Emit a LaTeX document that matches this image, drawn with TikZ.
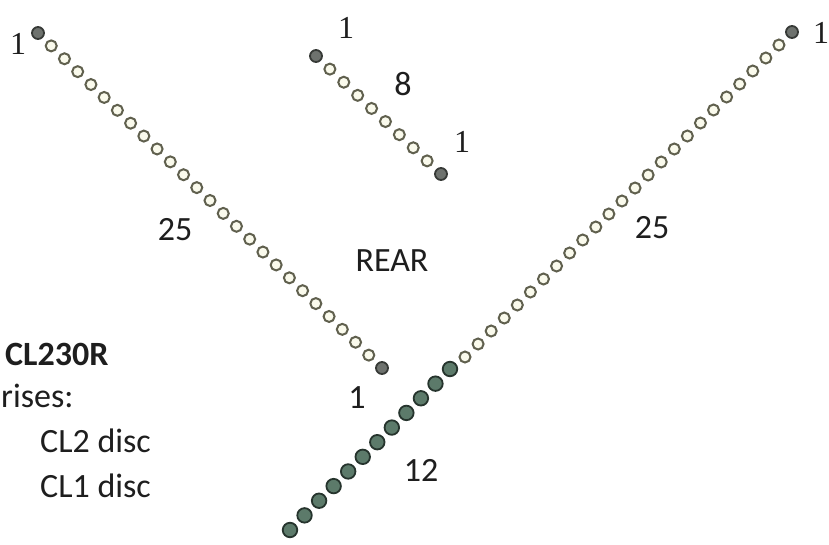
\documentclass[tikz,border=0pt]{standalone}
\usepackage{fontspec}
\setmainfont{Carlito}
\newfontfamily\serifone{Liberation Serif}
\definecolor{ringc}{RGB}{96,96,78}
\definecolor{ringfill}{RGB}{250,250,236}
\definecolor{greyc}{RGB}{110,114,110}
\definecolor{darkc}{RGB}{55,58,55}
\definecolor{greenc}{RGB}{92,122,106}
\definecolor{greendk}{RGB}{38,52,45}
\definecolor{textc}{RGB}{30,30,30}
\begin{document}
\begin{tikzpicture}[x=1pt,y=-1pt,
  opendot/.style={circle,draw=ringc,fill=ringfill,line width=2pt,minimum size=11pt,inner sep=0pt},
  greydot/.style={circle,draw=darkc,fill=greyc,line width=1.8pt,minimum size=12pt,inner sep=0pt},
  greendot/.style={circle,draw=greendk,fill=greenc,line width=1.8pt,minimum size=14.5pt,inner sep=0pt},
  lbl/.style={font=\fontsize{34}{40}\selectfont,text=textc,inner sep=0pt},
  slbl/.style={font=\fontsize{32}{38}\serifone,text=textc,inner sep=0pt},
]
\useasboundingbox (0,0) rectangle (829,544);
\fill[white] (0,0) rectangle (829,544);

% left chain: 27 dots from (38,33) to (382,368)
\foreach \i in {0,...,26}{
  \pgfmathsetmacro{\xx}{38+\i*(382-38)/26}
  \pgfmathsetmacro{\yy}{33+\i*(368-33)/26}
  \ifnum\i=0
    \node[greydot] (L\i) at (\xx,\yy) {};
  \else\ifnum\i=26
    \node[greydot] (L\i) at (\xx,\yy) {};
  \else
    \node[opendot] (L\i) at (\xx,\yy) {};
  \fi\fi
}

% middle chain: 10 dots from (316,56) to (441,174)
\foreach \i in {0,...,9}{
  \pgfmathsetmacro{\xx}{316+\i*(441-316)/9}
  \pgfmathsetmacro{\yy}{56+\i*(174-56)/9}
  \ifnum\i=0
    \node[greydot] (M\i) at (\xx,\yy) {};
  \else\ifnum\i=9
    \node[greydot] (M\i) at (\xx,\yy) {};
  \else
    \node[opendot] (M\i) at (\xx,\yy) {};
  \fi\fi
}

% right chain: top grey + 25 open from (792,32) to (465,357)
\foreach \i in {0,...,25}{
  \pgfmathsetmacro{\xx}{792-\i*(792-465)/25}
  \pgfmathsetmacro{\yy}{32+\i*(357-32)/25}
  \ifnum\i=0
    \node[greydot] (R\i) at (\xx,\yy) {};
  \else
    \node[opendot] (R\i) at (\xx,\yy) {};
  \fi
}
% 12 green dots from (450,369) to (290,530)
\foreach \i in {0,...,11}{
  \pgfmathsetmacro{\xx}{450-\i*(450-290)/11}
  \pgfmathsetmacro{\yy}{369+\i*(530-369)/11}
  \node[greendot] (G\i) at (\xx,\yy) {};
}

% labels
\node[slbl] (n1a) at (18,44) {1};
\node[slbl] (n1b) at (346,28) {1};
\node[lbl]  (n8)  at (403,84) {8};
\node[slbl] (n1c) at (462,142) {1};
\node[slbl] (n1d) at (821,33) {1};
\node[lbl]  (n25a) at (175,230) {25};
\node[lbl]  (rear) at (392,261) {REAR};
\node[lbl]  (n25b) at (652,228) {25};
\node[lbl]  (n1e) at (357,398) {1};
\node[lbl]  (n12) at (421,470) {12};

\node[lbl,anchor=base west,font=\fontsize{34}{40}\selectfont\bfseries] (code) at (5,365) {CL230R};
\node[lbl,anchor=base west] (rises) at (1,407) {rises:};
\node[lbl,anchor=base west] (cl2) at (40,452) {CL2 disc};
\node[lbl,anchor=base west] (cl1) at (40,497) {CL1 disc};
\end{tikzpicture}
\end{document}
